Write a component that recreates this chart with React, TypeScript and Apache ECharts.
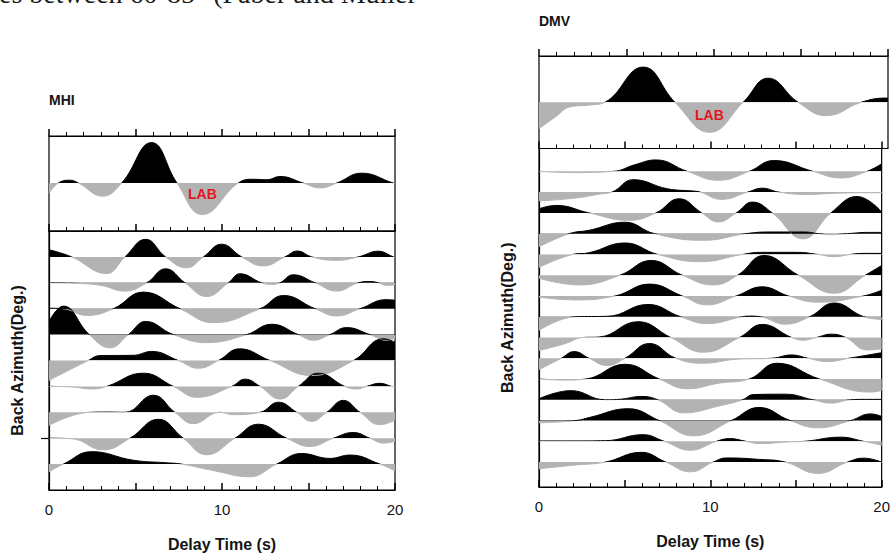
import React, { useEffect, useRef } from "react";
import * as echarts from "echarts";

// ---- Axis / label data ----
const delayMin = 0;
const delayMax = 20;
const delayMajorStep = 5;
const delayTickLabels = [0, 10, 20];
const stationNames = ["MHI", "DMV"];
const labMarker = "LAB";
const mhiAzimuthTick = 1;

// ---- Stacked receiver functions: [delay time (s), amplitude] ----
const mhiStack = [
  [0, -0.22], [0.54, 0], [1.2, 0.06], [1.7, 0], [3.1, -0.28], [4.2, 0], [5.93, 0.86], [7.4, 0],
  [8.86, -0.67], [10.94, 0], [11.8, 0.08], [12.6, 0.07], [13.35, 0.14], [14.7, 0], [15.67, -0.105],
  [16.63, 0], [18.07, 0.21], [19.9, 0], [20, -0.01],
];
const dmvStack = [
  [0, -0.57], [1.0, -0.3], [1.77, -0.1], [2.92, -0.06], [3.78, 0], [5.97, 0.76], [7.79, 0], [9.79, -0.65],
  [11.7, 0], [13.13, 0.52], [14.85, 0], [16.47, -0.29], [18.47, 0], [19.9, 0.09], [20, 0.09],
];

// ---- Individual traces (top to bottom): [delay time (s), amplitude in trace spacings] ----
const mhiTraces = [
  [[0, 0.28], [1.31, 0], [3.33, -0.64], [4.39, 0], [5.59, 0.68], [6.74, 0], [7.96, -0.42], [8.92, 0], [9.98, 0.49], [11.14, 0], [12.39, -0.35], [13.64, 0], [14.37, 0.23], [15.18, 0], [16.63, -0.13], [17.88, 0], [19.04, 0.22], [19.9, 0], [20, -0.02]],
  [[0, 0], [1.5, -0.02], [3.0, -0.1], [4.39, -0.32], [5.65, 0], [6.74, 0.54], [7.86, 0], [9.11, -0.53], [10.37, 0], [11.04, 0.35], [12.29, 0], [12.87, -0.06], [13.35, 0], [14.12, 0.31], [15.38, 0], [16.63, -0.32], [17.88, 0], [18.55, 0.05], [19.04, 0], [19.5, -0.1], [20, -0.08]],
  [[0, 0.02], [0.8, 0], [2.2, -0.26], [3.72, 0], [5.45, 0.64], [7.57, 0], [9.5, -0.54], [12.2, 0], [13.55, 0.51], [15.38, 0], [16.63, -0.28], [17.98, 0], [19.5, 0.35], [20, 0.33]],
  [[0, 0.5], [0.83, 1.1], [2.33, 0], [3.53, -0.51], [4.59, 0], [5.59, 0.51], [7.19, 0], [9.11, -0.31], [11.43, 0], [12.87, 0.4], [14.41, 0], [15.28, -0.22], [16.24, 0], [17.2, 0.27], [18.55, 0], [19.5, -0.22], [20, -0.15]],
  [[0, -0.77], [2.27, 0], [2.95, 0.19], [4.87, 0.2], [5.93, 0.35], [7.48, 0], [8.63, -0.3], [9.79, 0], [11.0, 0.45], [12.77, 0], [15.18, -0.58], [17.6, 0], [19.33, 0.84], [20, 0.7]],
  [[0, 0], [1.3, -0.02], [2.5, -0.1], [3.33, 0], [5.45, 0.51], [7.19, 0], [8.54, -0.42], [10.56, 0], [11.33, 0.28], [12.2, 0], [13.35, -0.49], [14.41, 0], [15.57, 0.51], [17.1, 0], [17.78, -0.1], [18.36, 0], [19.13, 0.12], [19.8, 0], [20, -0.02]],
  [[0, -0.51], [2.37, 0], [3.4, 0.01], [4.39, 0], [6.03, 0.66], [7.28, 0], [8.34, -0.44], [9.88, 0], [10.65, -0.09], [12.2, 0], [13.26, 0.39], [14.32, 0], [15.18, -0.35], [16.05, 0], [17.01, 0.46], [17.98, 0], [19.13, -0.48], [20, -0.3]],
  [[0, 0], [1.3, -0.02], [3.14, -0.45], [4.68, 0], [6.32, 0.73], [7.76, 0], [9.11, -0.64], [10.75, 0], [12.1, 0.54], [13.74, 0], [15.09, -0.32], [16.44, 0], [17.59, 0.22], [18.55, 0], [19.33, -0.19], [20, -0.12]],
  [[0, -0.3], [0.83, 0], [2.47, 0.48], [4.87, 0.15], [6.8, 0.05], [7.67, 0], [9.5, -0.25], [11.6, -0.49], [13.16, 0], [14.6, 0.41], [16.24, 0.22], [17.4, 0.35], [19.13, 0], [20, -0.26]],
];

const dmvTraces = [
  [[0, 0], [2, -0.06], [4.35, 0], [5.6, 0.32], [6.83, 0.55], [8.65, 0], [10.46, -0.43], [12.27, 0], [13.7, 0.52], [15.99, 0], [17.6, -0.32], [19.14, 0], [20, 0.36]],
  [[0, -0.42], [2.0, -0.3], [3.5, -0.1], [4.26, 0], [5.5, 0.6], [7.5, 0.16], [9.03, 0.05], [9.41, 0], [10.65, -0.35], [12.18, 0], [13.03, 0.19], [14.0, 0], [15.5, -0.11], [17.5, -0.05], [19.33, -0.03], [20, -0.03]],
  [[0, 0.2], [1.01, 0.36], [2.92, 0], [5.21, -0.36], [6.83, 0], [8.17, 0.68], [9.5, 0], [10.46, -0.44], [11.51, 0], [12.46, 0.52], [13.61, 0], [15.42, -1.25], [17.04, 0], [18.57, 0.79], [20, 0.05]],
  [[0, -0.63], [1.77, 0], [2.92, 0.16], [5.02, 0.55], [6.74, 0], [9.6, -0.32], [12.08, 0], [13.5, 0.08], [15.5, 0.08], [16.3, 0], [17.04, -0.05], [18.0, 0], [19.2, 0.06], [20, 0.06]],
  [[0, -0.63], [1.97, 0], [2.92, 0.08], [5.02, 0.55], [6.93, 0], [9.41, -0.35], [11.89, 0], [13, 0.1], [15, 0.1], [16.28, 0], [17.23, -0.11], [18.19, 0], [19, 0.05], [20, 0.05]],
  [[0, -0.15], [2.35, -0.47], [4.73, 0], [6.55, 0.71], [8.36, 0], [10.17, -0.47], [11.6, 0], [13.13, 0.95], [15.13, 0], [17.23, -0.87], [19.05, 0], [20, 0.47]],
  [[0, -0.05], [2, -0.19], [4.45, 0], [6.45, 0.57], [8.36, 0], [9.79, -0.43], [11.51, 0], [13.03, 0.44], [14.56, 0], [16.28, -0.3], [18.95, 0], [20, 0.28]],
  [[0, -0.66], [2.16, 0], [4, 0.02], [6.36, 0.59], [8.26, 0], [9.79, -0.33], [11.89, 0], [12.3, 0.03], [12.9, 0], [14.37, -0.36], [15.8, 0], [17.23, 0.66], [18.95, 0], [20, -0.13]],
  [[0, -0.63], [1.5, -0.3], [2.6, 0], [3.49, 0.02], [5.78, 0.76], [7.69, 0], [9.6, -0.71], [11.7, 0], [13.03, 0.63], [14.75, 0], [15.4, -0.13], [16.2, 0], [17.04, 0.16], [17.9, 0], [19.14, -0.6], [20, -0.55]],
  [[0, -0.55], [1.3, 0], [2.06, 0.32], [2.92, 0], [3.97, -0.35], [5.02, 0], [6.45, 0.71], [7.98, 0], [9.6, -0.24], [11.5, -0.05], [13.6, 0], [14.75, 0.16], [15.7, 0], [16.85, -0.16], [18.09, 0], [20, 0.27]],
  [[0, 0], [1.5, -0.05], [2.73, 0], [5.02, 0.71], [7.02, 0], [8.65, -0.47], [10.5, -0.2], [12.27, 0], [13.89, 0.76], [16.37, 0], [19.33, -0.63], [20, -0.55]],
  [[0, 0.05], [1.87, 0.44], [3.87, 0], [4.8, 0.03], [5.97, 0.16], [6.93, 0], [8.45, -0.63], [10.5, -0.3], [11.89, 0], [12.5, 0.25], [14.37, 0.27], [15.99, 0], [17.04, -0.16], [18.19, 0], [19, 0.02], [20, 0.02]],
  [[0, -0.11], [2.16, 0], [3, 0.16], [5.21, 0.57], [7.02, 0], [9.03, -0.74], [11.22, 0], [12.84, 0.63], [14.66, 0], [16.28, -0.35], [18.19, 0], [19.33, 0.32], [20, 0.21]],
  [[0, 0.02], [2, 0.02], [3.87, 0.03], [6.07, 0.32], [7.31, 0], [8.84, -0.43], [10.36, 0], [11.13, 0.13], [12.08, 0], [12.84, -0.11], [14.5, -0.03], [15.5, 0], [17.6, 0.2], [18.95, 0], [20, -0.19]],
  [[0, -0.32], [2, -0.15], [3.87, 0], [5.97, 0.47], [7.4, 0], [8.84, -0.47], [10.17, 0], [10.94, 0.2], [12.84, 0.13], [14.37, 0], [16.28, -0.55], [18.0, 0], [18.95, 0.19], [20, 0]],
];

const BLACK = "#000000";
const GRAY = "#b3b3b3";
const TEXT = "#141414";
const FONT = '"Liberation Sans", Arial, Helvetica, sans-serif';
const NAME_SIZE = 16;

function topAxis(gridIndex: number) {
  return {
    type: "value",
    gridIndex,
    position: "top",
    min: delayMin,
    max: delayMax,
    interval: delayMajorStep,
    axisLine: { show: true, onZero: false, lineStyle: { color: BLACK, width: 1.2 } },
    axisTick: { show: true, inside: false, length: 7, lineStyle: { color: BLACK, width: 1.5 } },
    minorTick: { show: true, splitNumber: 5, length: 4, lineStyle: { color: BLACK, width: 1 } },
    axisLabel: { show: false },
    splitLine: { show: false },
    minorSplitLine: { show: false },
  };
}

function bottomAxis(gridIndex: number) {
  return {
    type: "value",
    gridIndex,
    position: "bottom",
    min: delayMin,
    max: delayMax,
    interval: delayMajorStep,
    axisLine: { show: true, onZero: false, lineStyle: { color: BLACK, width: 1.2 } },
    axisTick: { show: true, inside: true, length: 7, lineStyle: { color: BLACK, width: 1.5 } },
    minorTick: { show: true, splitNumber: 5, length: 4, lineStyle: { color: BLACK, width: 1 } },
    axisLabel: {
      show: true,
      margin: 12,
      fontSize: 15,
      color: TEXT,
      fontFamily: FONT,
      formatter: (v: number) => (delayTickLabels.indexOf(v) >= 0 ? String(v) : ""),
    },
    splitLine: { show: false },
    minorSplitLine: { show: false },
    name: "Delay Time (s)",
    nameLocation: "middle",
    nameGap: 46,
    nameTextStyle: { fontSize: NAME_SIZE, fontWeight: "bold", color: TEXT, fontFamily: FONT },
  };
}

function traceSeries(points: number[][], base: number, xAxisIndex: number, yAxisIndex: number) {
  return {
    type: "line",
    xAxisIndex,
    yAxisIndex,
    data: points.map((p) => [p[0], base + p[1]]),
    smooth: 0.45,
    showSymbol: false,
    symbol: "none",
    silent: true,
    lineStyle: { width: 1 },
    areaStyle: { origin: base, opacity: 1 },
  };
}

export default function App() {
  const ref = useRef<HTMLDivElement>(null);

  useEffect(() => {
    if (!ref.current) return;
    const chart = echarts.init(ref.current, null, { renderer: "svg" });

    const series: any[] = [];
    const bases: number[] = [];
    const add = (pts: number[][], base: number, xi: number, yi: number) => {
      series.push(traceSeries(pts, base, xi, yi));
      bases.push(base);
    };
    add(mhiStack, 0, 0, 0);
    mhiTraces.forEach((pts, k) => add(pts, mhiTraces.length - 1 - k, 1, 1));
    add(dmvStack, 0, 3, 2);
    dmvTraces.forEach((pts, k) => add(pts, dmvTraces.length - 1 - k, 4, 3));

    const visualMaps = bases.map((base, i) => ({
      type: "piecewise",
      show: false,
      dimension: 1,
      seriesIndex: i,
      pieces: [
        { gte: base - 5, lt: base, color: GRAY },
        { gte: base, lte: base + 5, color: BLACK },
      ],
      outOfRange: { color: GRAY },
    }));

    const gridStyle = { show: true, borderColor: BLACK, borderWidth: 1.2, backgroundColor: "transparent" };
    const nameStyle = { fontSize: NAME_SIZE, fontWeight: "bold", color: TEXT, fontFamily: FONT };

    chart.setOption({
      animation: false,
      backgroundColor: "#ffffff",
      title: [
        { text: stationNames[0], left: 49, top: 93, padding: 0, textStyle: { fontSize: 14, fontWeight: "bold", color: TEXT, fontFamily: FONT } },
        { text: stationNames[1], left: 539, top: 14, padding: 0, textStyle: { fontSize: 14, fontWeight: "bold", color: TEXT, fontFamily: FONT } },
      ],
      grid: [
        { ...gridStyle, left: 49, top: 136, width: 346, height: 95 },
        { ...gridStyle, left: 49, top: 231, width: 346, height: 259 },
        { ...gridStyle, left: 539, top: 56, width: 349, height: 92.5 },
        { ...gridStyle, left: 539, top: 148.5, width: 349, height: 343.5 },
      ],
      xAxis: [topAxis(0), topAxis(1), bottomAxis(1), topAxis(2), topAxis(3), bottomAxis(3)],
      yAxis: [
        { type: "value", gridIndex: 0, min: -1.02, max: 1, show: false },
        {
          type: "value",
          gridIndex: 1,
          min: -1,
          max: mhiTraces.length,
          position: "left",
          axisLine: { show: true, onZero: false, lineStyle: { color: BLACK, width: 1.2 } },
          axisTick: { show: true, inside: false, customValues: [mhiAzimuthTick], length: 8, lineStyle: { color: BLACK, width: 1.2 } },
          axisLabel: { show: false },
          splitLine: { show: false },
          name: "Back Azimuth(Deg.)",
          nameLocation: "middle",
          nameGap: 24,
          nameTextStyle: nameStyle,
        },
        { type: "value", gridIndex: 2, min: -1, max: 1, show: false },
        {
          type: "value",
          gridIndex: 3,
          min: -1.2,
          max: 15.1,
          position: "left",
          axisLine: { show: true, onZero: false, lineStyle: { color: BLACK, width: 1.2 } },
          axisTick: { show: false },
          axisLabel: { show: false },
          splitLine: { show: false },
          name: "Back Azimuth(Deg.)",
          nameLocation: "middle",
          nameGap: 24,
          nameTextStyle: nameStyle,
        },
      ],
      visualMap: visualMaps,
      series,
      graphic: [
        {
          type: "text",
          x: -1,
          y: 7,
          z: 100,
          style: {
            text: "es between 60-85° (Faber and Muller",
            font: '28px "Liberation Serif", "Times New Roman", serif',
            fill: "#1a1a1a",
            verticalAlign: "bottom",
          },
        },
        {
          type: "text",
          x: 188,
          y: 194,
          z: 100,
          style: { text: labMarker, font: `bold 14px ${FONT}`, fill: "#e3161d", verticalAlign: "middle" },
        },
        {
          type: "text",
          x: 695,
          y: 115,
          z: 100,
          style: { text: labMarker, font: `bold 14px ${FONT}`, fill: "#e3161d", verticalAlign: "middle" },
        },
      ],
    });

    return () => chart.dispose();
  }, []);

  return <div ref={ref} style={{ position: "fixed", left: 0, top: 0, width: 893, height: 554 }} />;
}
